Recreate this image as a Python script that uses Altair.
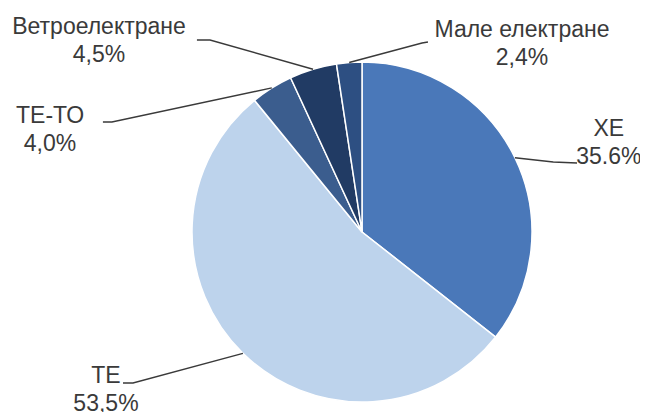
import math
import altair as alt
import pandas as pd

# ---- data ----
categories = ["ХЕ", "ТЕ", "ТЕ-ТО", "Ветроелектране", "Мале електране"]
shares = [35.6, 53.5, 4.0, 4.5, 2.4]
pct_labels = ["35.6%", "53,5%", "4,0%", "4,5%", "2,4%"]

# ---- styling / layout (unit = pie radius, origin = pie centre, y up) ----
colors = ["#4a78b9", "#bdd3ec", "#3b5d8e", "#213b64", "#2d4f82"]
label_x = [1.452, -1.506, -1.835, -1.547, 0.941]
label_y = [0.524, -0.929, 0.600, 1.124, 1.106]
leader_end = [(1.265, 0.406), (-1.406, -0.888), (-1.524, 0.647), (-0.971, 1.129), (0.388, 1.118)]
leader_elbow = [(1.125, 0.412), (-1.347, -0.888), (-1.471, 0.647), (-0.894, 1.129), (0.353, 1.112)]

R = 170
FONT = "Liberation Sans"

pie_df = pd.DataFrame({"cat": categories, "share": shares, "idx": range(len(categories))})

# leader lines: anchor at slice mid-angle on the rim, elbow, end near label
total = sum(shares)
rows = []
cum = 0.0
for i, (c, s) in enumerate(zip(categories, shares)):
    mid = (cum + s / 2) / total * 2 * math.pi
    cum += s
    ax, ay = math.sin(mid), math.cos(mid)
    pts = [(ax, ay), leader_elbow[i], leader_end[i]]
    for k, (px, py) in enumerate(pts):
        rows.append({"cat": c, "k": k, "x": px, "y": py})
lead_df = pd.DataFrame(rows)

lab_df = pd.DataFrame({"cat": categories, "pct": pct_labels, "x": label_x, "y": label_y})

xs = alt.Scale(domain=[-1, 1])
ys = alt.Scale(domain=[-1, 1])

pie = alt.Chart(pie_df).mark_arc(outerRadius=R, stroke="white", strokeWidth=1.5).encode(
    theta=alt.Theta("share:Q", stack=True),
    color=alt.Color("cat:N", scale=alt.Scale(domain=categories, range=colors), legend=None),
    order=alt.Order("idx:Q"),
)

lines = alt.Chart(lead_df).mark_line(color="#3a3a3a", strokeWidth=1.4).encode(
    x=alt.X("x:Q", scale=xs, axis=None),
    y=alt.Y("y:Q", scale=ys, axis=None),
    detail="cat:N",
    order="k:Q",
)

names = alt.Chart(lab_df).mark_text(font=FONT, fontSize=23, color="#3a3a3a", dy=-14).encode(
    x=alt.X("x:Q", scale=xs, axis=None),
    y=alt.Y("y:Q", scale=ys, axis=None),
    text="cat:N",
)
vals = alt.Chart(lab_df).mark_text(font=FONT, fontSize=23, color="#3a3a3a", dy=14).encode(
    x=alt.X("x:Q", scale=xs, axis=None),
    y=alt.Y("y:Q", scale=ys, axis=None),
    text="pct:N",
)

chart = alt.layer(pie, lines, names, vals).properties(
    width=2 * R,
    height=2 * R,
    autosize="none",
    background="white",
    padding={"left": 184, "top": 54, "right": 108, "bottom": 10},
).configure_view(strokeWidth=0, stroke=None)

chart.save("out.html", embed_options={"renderer": "svg", "actions": False})
